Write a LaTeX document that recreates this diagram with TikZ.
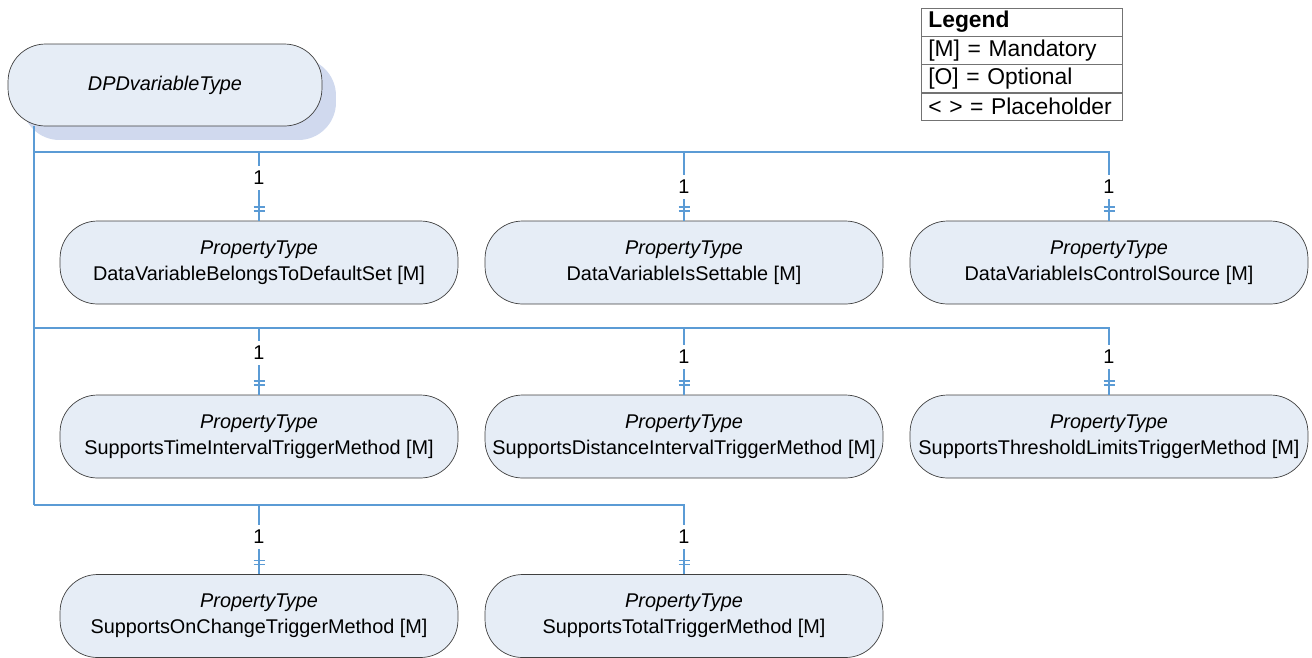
\documentclass[tikz,border=0pt]{standalone}
\usepackage{fontspec}
\setmainfont{Liberation Sans}
\usetikzlibrary{positioning,shadows}
\definecolor{boxfill}{HTML}{E6EDF6}
\definecolor{shadowfill}{HTML}{D0D9EE}
\definecolor{linkblue}{HTML}{5B9BD5}

\begin{document}
\begin{tikzpicture}[x=0.02cm,y=-0.02cm,font=\fontsize{11.3}{14.7}\selectfont,
    link/.style={draw=linkblue,line width=0.8pt}]
    \useasboundingbox (0,0) rectangle (1312,657);

    \begin{scope}[every node/.style={draw=black!75,fill=boxfill,rounded corners=0.75cm,
        minimum width=7.96cm,minimum height=1.66cm,align=center,inner sep=0pt}]
      \node[minimum width=6.28cm,minimum height=1.64cm,
        drop shadow={shadow xshift=0.28cm,shadow yshift=-0.28cm,fill=shadowfill,opacity=1}]
        (root) at (165,85) {\textit{DPDvariableType}};
      \node (p1) at (259,262.5) {\textit{PropertyType}\\DataVariableBelongsToDefaultSet [M]};
      \node (p2) at (684,262.5) {\textit{PropertyType}\\DataVariableIsSettable [M]};
      \node (p3) at (1109,262.5) {\textit{PropertyType}\\DataVariableIsControlSource [M]};
      \node (p4) at (259,436.5) {\textit{PropertyType}\\SupportsTimeIntervalTriggerMethod [M]};
      \node (p5) at (684,436.5) {\textit{PropertyType}\\SupportsDistanceIntervalTriggerMethod [M]};
      \node (p6) at (1109,436.5) {\textit{PropertyType}\\SupportsThresholdLimitsTriggerMethod [M]};
      \node (p7) at (259,616) {\textit{PropertyType}\\SupportsOnChangeTriggerMethod [M]};
      \node (p8) at (684,616) {\textit{PropertyType}\\SupportsTotalTriggerMethod [M]};
    \end{scope}

    % legend
    \begin{scope}[every node/.style={draw=black!55,fill=white,minimum height=0.55cm,
        text width=3.74cm,inner xsep=0.14cm,inner ysep=0pt,align=left,
        font=\fontsize{13}{15}\selectfont}]
      \node[anchor=north west] (leg0) at (921,8) {\textbf{Legend}};
      \node[below=0pt of leg0] (leg1) {[M] = Mandatory};
      \node[below=0pt of leg1] (leg2) {[O] = Optional};
      \node[below=0pt of leg2] (leg3) {< > = Placeholder};
    \end{scope}

    % connectors
    \coordinate (r1) at (34,152);
    \coordinate (r2) at (34,328);
    \coordinate (r3) at (34,505);
    \draw[link] (root.south -| r1) -- (r3);
    \foreach \c in {p1,p2,p3} \draw[link] (r1) -| (\c.north);
    \foreach \c in {p4,p5,p6} \draw[link] (r2) -| (\c.north);
    \foreach \c in {p7,p8} \draw[link] (r3) -| (\c.north);
    \foreach \c in {p1,p2,p3,p4,p5,p6,p7,p8} {
      \draw[link] ([shift={(-5.5,-13.5)}]\c.north) -- ++(11,0);
      \draw[link] ([shift={(-5.5,-9.5)}]\c.north) -- ++(11,0);
    }

    \begin{scope}[every node/.style={fill=white,inner xsep=1pt,inner ysep=3pt}]
      \node (m1) at (259,178) {1};
      \node (m2) at (684,187) {1};
      \node (m3) at (1109,187) {1};
      \node (m4) at (259,353) {1};
      \node (m5) at (684,357) {1};
      \node (m6) at (1109,357) {1};
      \node (m7) at (259,537) {1};
      \node (m8) at (684,537) {1};
    \end{scope}
\end{tikzpicture}
\end{document}
